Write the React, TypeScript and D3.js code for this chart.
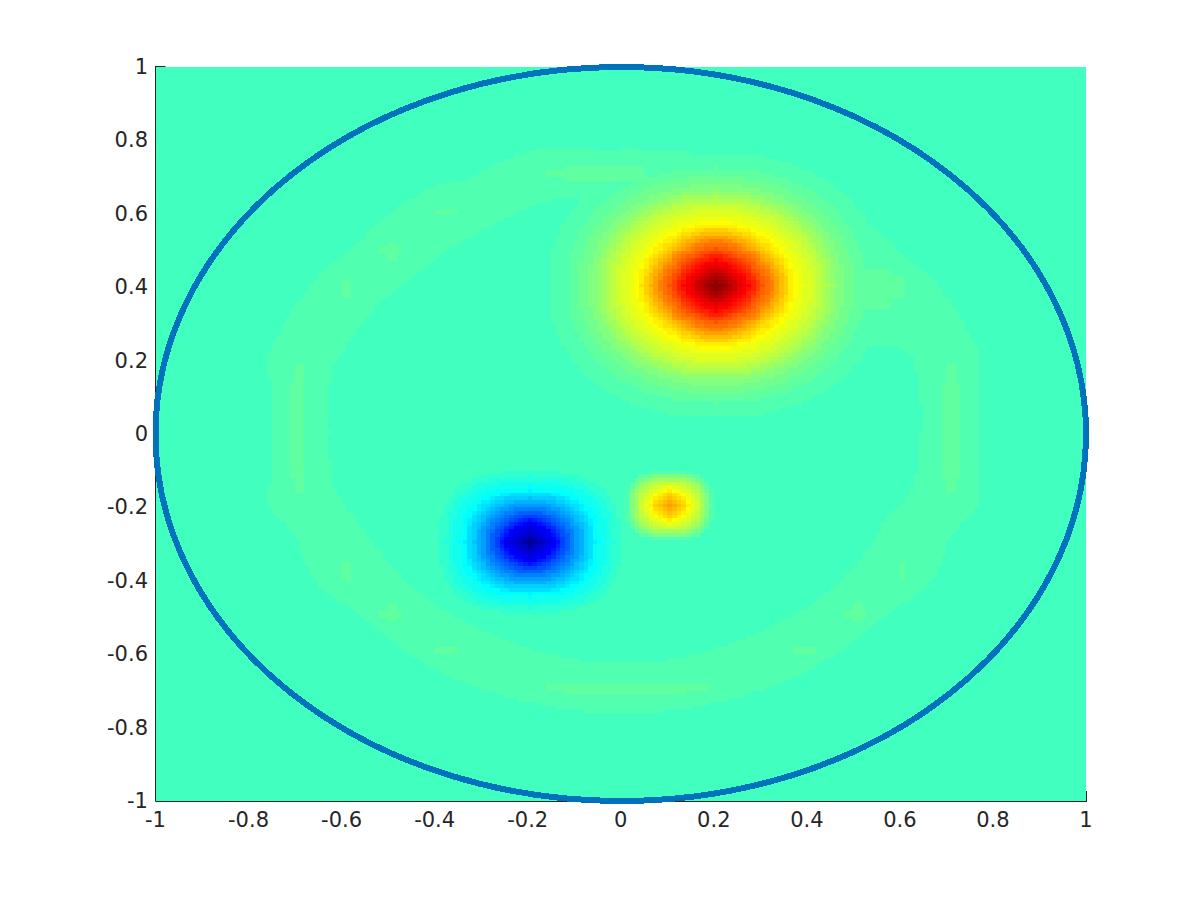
import React, { useMemo } from "react";
import * as d3 from "d3";

// Tick labels, as printed
const xTickValues = [-1, -0.8, -0.6, -0.4, -0.2, 0, 0.2, 0.4, 0.6, 0.8, 1];
const yTickValues = [-1, -0.8, -0.6, -0.4, -0.2, 0, 0.2, 0.4, 0.6, 0.8, 1];

// Colormap index (1-64) of the zero-valued background
const backgroundLevel = 28;

// Extents, in data units: the radius out to which each
// successive colormap level reaches, listed from the outermost level inward.
const redCentre = [0.2, 0.4];
const redRadii = [
  0.36, 0.32, 0.295, 0.275, 0.26, 0.25, 0.24, 0.23, 0.218, 0.205, 0.19, 0.175,
  0.168, 0.16, 0.152, 0.146, 0.14, 0.134, 0.128, 0.122, 0.115, 0.108, 0.101, 0.095,
  0.089, 0.083, 0.077, 0.071, 0.062, 0.054, 0.046, 0.038, 0.03, 0.022, 0.012,
];
const orangeCentre = [0.1, -0.2];
const orangeRadii = [
  0.093, 0.09, 0.086, 0.082, 0.078, 0.074, 0.07, 0.066, 0.062, 0.057, 0.051,
  0.045, 0.04, 0.035, 0.03, 0.025, 0.018, 0.01,
];
const blueCentre = [-0.2, -0.3];
const blueRadii = [
  0.193, 0.18, 0.165, 0.15, 0.14, 0.133, 0.127, 0.12, 0.113, 0.107, 0.1, 0.095,
  0.089, 0.083, 0.078, 0.074, 0.07, 0.066, 0.062, 0.058, 0.05, 0.042, 0.034, 0.026,
  0.018, 0.012, 0.006,
];
// Contour squareness of each blob: [at the core, at the rim, how fast it changes]
const redShape = [1.1, 2.2, 0.75];
const orangeShape = [0.9, 3.2, 1];
const blueShape = [1.0, 2.8, 1];

// The faint ring: bounds read at each polar angle (degrees)
const ringAngles = [0, 8, 15, 19, 21, 25, 32, 40, 60, 93, 104, 116, 121, 137, 147, 165, 172, 180, 188, 195, 202, 211, 222, 240, 270, 300, 318, 329, 338, 345, 352, 360];
const ringOuter = [0.768, 0.774, 0.796, 0.793, 0.79, 0.788, 0.787, 0.772, 0.78, 0.769, 0.793, 0.766, 0.785, 0.77, 0.78, 0.79, 0.763, 0.757, 0.763, 0.79, 0.757, 0.779, 0.752, 0.762, 0.765, 0.762, 0.752, 0.779, 0.757, 0.79, 0.774, 0.768];
const ringInner = [0.64, 0.645, 0.652, 0.653, 0.64, 0.553, 0.55, 0.55, 0.62, 0.625, 0.65, 0.63, 0.624, 0.62, 0.63, 0.647, 0.64, 0.63, 0.635, 0.64, 0.62, 0.615, 0.619, 0.618, 0.63, 0.618, 0.619, 0.615, 0.612, 0.64, 0.64, 0.64];

// Slightly brighter patches inside the ring: [xMin, xMax, yMin, yMax]
const ringPatches = [
  [-0.71, -0.68, -0.12, 0.13],
  [-0.7, -0.69, -0.17, 0.18],
  [0.69, 0.72, -0.12, 0.13],
  [0.7, 0.71, -0.17, 0.18],
  [-0.12, 0.13, -0.71, -0.68],
  [-0.17, 0.18, -0.7, -0.69],
  [-0.17, -0.1, 0.7, 0.71],
  [-0.12, 0.05, 0.69, 0.72],
  [-0.6, -0.59, 0.37, 0.41],
  [-0.6, -0.59, -0.4, -0.36],
  [0.6, 0.61, -0.4, -0.36],
  [0.5, 0.58, 0.34, 0.44],
  [0.58, 0.61, 0.37, 0.42],
  [-0.52, -0.48, 0.49, 0.5],
  [-0.505, -0.49, 0.47, 0.51],
  [-0.52, -0.48, -0.5, -0.49],
  [-0.505, -0.49, -0.51, -0.47],
  [0.48, 0.52, -0.5, -0.49],
  [0.495, 0.51, -0.51, -0.47],
  [-0.4, -0.36, 0.6, 0.61],
  [-0.4, -0.36, -0.6, -0.59],
  [0.37, 0.41, -0.6, -0.59],
];

const GRID = d3.range(0, 200);

const left = 155.5;
const right = 1086;
const top = 67;
const bottom = 801;
const xScale = d3.scaleLinear().domain([-1, 1]).range([left, right]);
const yScale = d3.scaleLinear().domain([-1, 1]).range([bottom, top]);

// MATLAB jet(64), k = 1..64
function jet(k: number) {
  const c = (v: number) => Math.round(255 * Math.max(0, Math.min(1, v)));
  const r = k <= 56 ? (k - 24) / 16 : (72 - k) / 16;
  const g = k <= 24 ? (k - 8) / 16 : k <= 40 ? 1 : (56 - k) / 16;
  const b = k <= 8 ? 0.5 + k / 16 : k <= 24 ? 1 : (40 - k) / 16;
  return d3.rgb(c(r), c(g), c(b)).formatHex();
}

function bandIndex(radii: number[], shape: number[], c: number[], x: number, y: number) {
  const dx = Math.abs(x - c[0]);
  const dy = Math.abs(y - c[1]);
  const n = radii.length;
  for (let i = n - 1; i >= 0; i--) {
    const f = (n - 1 - i) / (n - 1);
    const p = shape[0] + (shape[1] - shape[0]) * Math.pow(f, shape[2]);
    const d = Math.pow(Math.pow(dx, p) + Math.pow(dy, p), 1 / p);
    if (d < radii[i]) return i + 1;
  }
  return 0;
}

const outerAt = d3.scaleLinear().domain(ringAngles).range(ringOuter);
const innerAt = d3.scaleLinear().domain(ringAngles).range(ringInner);

function levelAt(x: number, y: number) {
  const blue = bandIndex(blueRadii, blueShape, blueCentre, x, y);
  if (blue > 0) return backgroundLevel - blue;
  let level = backgroundLevel;
  const r = Math.hypot(x, y);
  const angle = ((Math.atan2(y, x) * 180) / Math.PI + 360) % 360;
  if (r >= innerAt(angle) && r <= outerAt(angle)) {
    level = backgroundLevel + 1;
    for (const q of ringPatches) {
      if (x >= q[0] && x <= q[1] && y >= q[2] && y <= q[3]) level = backgroundLevel + 2;
    }
  }
  const red = backgroundLevel + bandIndex(redRadii, redShape, redCentre, x, y);
  const orange = backgroundLevel + bandIndex(orangeRadii, orangeShape, orangeCentre, x, y);
  return Math.max(level, red, orange);
}

export default function App() {
  const runs = useMemo(() => {
    const out: { i0: number; i1: number; j: number; level: number }[] = [];
    for (const j of GRID) {
      let start = 0;
      let current = levelAt(-1, j / 100 - 1);
      for (let i = 1; i <= 200; i++) {
        const v = i < 200 ? levelAt(i / 100 - 1, j / 100 - 1) : -1;
        if (v !== current) {
          out.push({ i0: start, i1: i, j, level: current });
          start = i;
          current = v;
        }
      }
    }
    return out;
  }, []);

  const ink = "#262626";
  return (
    <svg
      width={1200}
      height={900}
      style={{ position: "absolute", left: 0, top: 0, background: "#fff" }}
      fontFamily="'DejaVu Sans', sans-serif"
      fontSize={21}
    >
      {/* Ticks sit under the surface; only those at the far edges show */}
      <line x1={left} x2={left + 10} y1={yScale(1) - 0.5} y2={yScale(1) - 0.5} stroke={ink} />
      <line x1={right + 0.5} x2={right + 0.5} y1={bottom} y2={bottom - 10} stroke={ink} />
      <g shapeRendering="crispEdges">
        {runs.map((d) => {
          const x0 = Math.round(xScale(d.i0 / 100 - 1));
          const x1 = Math.round(xScale(d.i1 / 100 - 1));
          const y0 = Math.round(yScale((d.j + 1) / 100 - 1));
          const y1 = Math.round(yScale(d.j / 100 - 1));
          return <rect key={`${d.j}-${d.i0}`} x={x0} y={y0} width={x1 - x0} height={y1 - y0} fill={jet(d.level)} />;
        })}
      </g>
      <line x1={left} x2={left} y1={top - 1} y2={bottom + 0.5} stroke={ink} />
      <line x1={left} x2={right + 1} y1={bottom + 0.5} y2={bottom + 0.5} stroke={ink} />
      <ellipse
        cx={xScale(0)}
        cy={yScale(0)}
        rx={xScale(1) - xScale(0)}
        ry={yScale(-1) - yScale(0)}
        fill="none"
        stroke="#0072BD"
        strokeWidth={6}
        shapeRendering="crispEdges"
      />
      {xTickValues.map((t) => (
        <text key={t} x={xScale(t)} y={827} textAnchor="middle" fill={ink}>
          {String(t)}
        </text>
      ))}
      {yTickValues.map((t) => (
        <text key={t} x={148} y={yScale(t) + 7} textAnchor="end" fill={ink}>
          {String(t)}
        </text>
      ))}
    </svg>
  );
}
